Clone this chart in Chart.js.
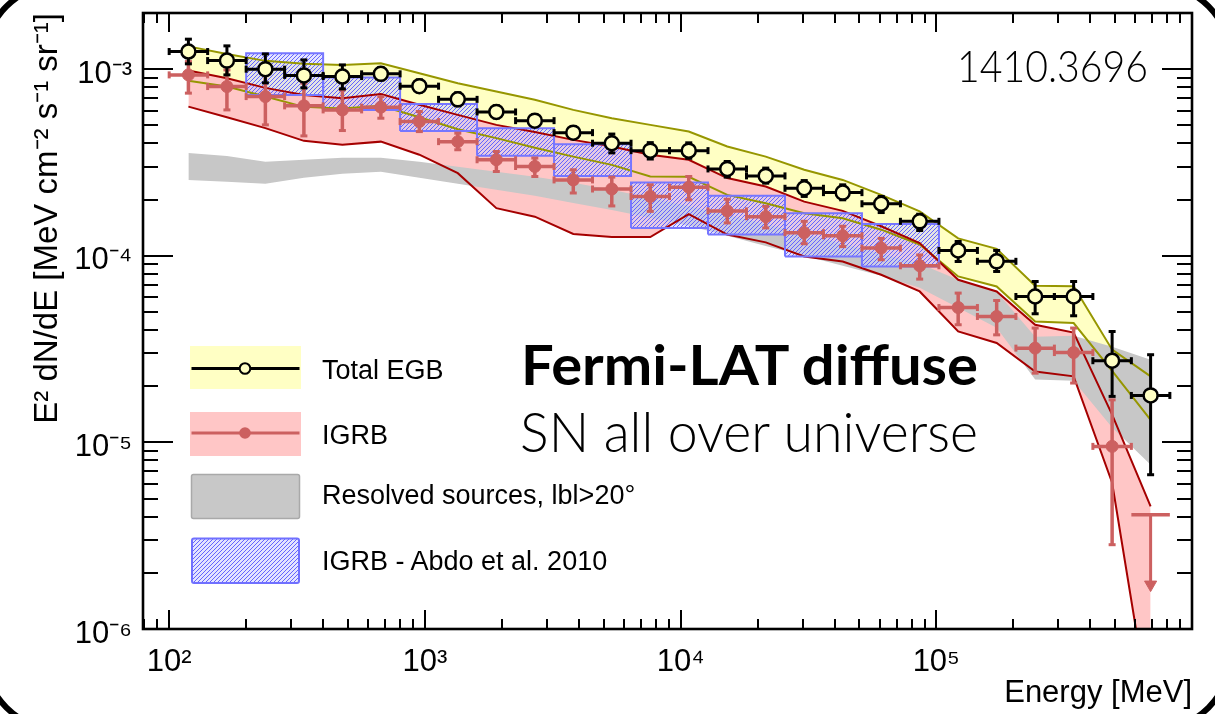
<!DOCTYPE html>
<html>
<head>
<meta charset="utf-8">
<script src="https://cdn.jsdelivr.net/npm/chart.js@4.4.1/dist/chart.umd.min.js"></script>
<style>
html,body{margin:0;padding:0;background:#fff;overflow:hidden}
#wrap{position:relative;width:1215px;height:714px;background:#fff;overflow:hidden}
#c{position:absolute;left:0;top:0}
#ov{position:absolute;left:0;top:0;pointer-events:none}
#corner{position:absolute;left:-20px;top:-20px;width:1255px;height:754px;box-sizing:border-box;border:6px solid #000;border-radius:83px;pointer-events:none}
.lg{font-family:'Liberation Sans',Arial,Helvetica,sans-serif;font-size:27px;fill:#000}
</style>
</head>
<body>
<div id="wrap">
<canvas id="c" width="1215" height="714"></canvas>
<svg id="ov" width="1215" height="714" viewBox="0 0 1215 714">
<defs>
<pattern id="hp" width="4" height="4" patternUnits="userSpaceOnUse">
<rect width="4" height="4" fill="rgba(205,205,255,0.55)"/>
<path d="M-1,1 L1,-1 M0,4 L4,0 M3,5 L5,3" stroke="rgb(100,100,255)" stroke-width="1"/>
</pattern>
</defs>
<rect x="190" y="346" width="111" height="43" fill="#ffffc4"/>
<line x1="191.5" y1="368.5" x2="299.5" y2="368.5" stroke="#000" stroke-width="3"/>
<circle cx="245" cy="368.5" r="5.3" fill="#ffffc4" stroke="#000" stroke-width="2"/>
<text class="lg" x="322" y="379">Total EGB</text>
<rect x="190" y="412" width="111" height="44" fill="#ffc6c6"/>
<line x1="191.5" y1="433" x2="299.5" y2="433" stroke="#cc6060" stroke-width="3"/>
<circle cx="245" cy="433" r="5.8" fill="#cc6060"/>
<text class="lg" x="322" y="444">IGRB</text>
<rect x="191.5" y="474.5" width="108" height="44" rx="2" fill="#c8c8c8" stroke="#a9a9a9" stroke-width="1.5"/>
<text class="lg" x="322" y="504">Resolved sources, lbl&gt;20°</text>
<rect x="192" y="538.5" width="107" height="44.5" rx="2" fill="url(#hp)" stroke="#7070ff" stroke-width="2"/>
<text class="lg" x="322" y="570">IGRB - Abdo et al. 2010</text>
<text x="957" y="82" font-family="Lato" font-weight="300" font-size="44" textLength="191" lengthAdjust="spacingAndGlyphs" fill="#000">1410.3696</text>
<text x="521" y="385" font-family="Lato" font-weight="700" font-size="56" textLength="457" lengthAdjust="spacingAndGlyphs" fill="#000">Fermi-LAT diffuse</text>
<text x="520" y="452" font-family="Lato" font-weight="300" font-size="56" textLength="458" lengthAdjust="spacingAndGlyphs" fill="#000">SN all over universe</text>
</svg>
<div id="corner"></div>
</div>
<script>
// ---------------- data ----------------
const energyLow = [100, 141.4, 200, 282.8, 400, 565.7, 800, 1131, 1600, 2263, 3200, 4525, 6400, 9051, 12800, 18102, 25600, 36204, 51200, 72408, 102400, 144815, 204800, 289631, 409600, 579262];
const energyHigh = [141.4, 200, 282.8, 400, 565.7, 800, 1131, 1600, 2263, 3200, 4525, 6400, 9051, 12800, 18102, 25600, 36204, 51200, 72408, 102400, 144815, 204800, 289631, 409600, 579262, 819200];
const energyCenter = [118.9, 168.2, 237.8, 336.4, 475.7, 672.7, 951.4, 1345, 1903, 2691, 3805, 5382, 7611, 10763, 15222, 21527, 30444, 43054, 60887, 86108, 121775, 172217, 243550, 344431, 487100, 688862];

const egbFlux = [1.243e-3, 1.112e-3, 1.000e-3, 9.26e-4, 9.13e-4, 9.44e-4, 8.11e-4, 6.89e-4, 5.90e-4, 5.30e-4, 4.57e-4, 4.01e-4, 3.66e-4, 3.66e-4, 2.92e-4, 2.68e-4, 2.30e-4, 2.18e-4, 1.90e-4, 1.53e-4, 1.068e-4, 9.34e-5, 6.05e-5, 6.05e-5, 2.74e-5, 1.785e-5];
const egbErrHigh = [1.448e-3, 1.333e-3, 1.207e-3, 1.121e-3, 1.054e-3, 1.016e-3, 8.76e-4, 7.47e-4, 6.36e-4, 5.69e-4, 4.91e-4, 4.49e-4, 4.04e-4, 4.03e-4, 3.20e-4, 2.95e-4, 2.53e-4, 2.40e-4, 2.08e-4, 1.67e-4, 1.193e-4, 1.068e-4, 7.28e-5, 7.28e-5, 3.93e-5, 2.95e-5];
const egbErrLow = [1.068e-3, 9.32e-4, 8.45e-4, 7.94e-4, 7.84e-4, 8.76e-4, 7.56e-4, 6.36e-4, 5.48e-4, 4.97e-4, 4.29e-4, 3.56e-4, 3.30e-4, 3.33e-4, 2.64e-4, 2.45e-4, 2.08e-4, 1.995e-4, 1.705e-4, 1.366e-4, 9.32e-5, 8.24e-5, 4.89e-5, 4.77e-5, 1.764e-5, 6.71e-6];
const egbSysHigh = [1.325e-3, 1.207e-3, 1.108e-3, 1.068e-3, 1.054e-3, 1.077e-3, 9.52e-4, 8.41e-4, 7.59e-4, 6.85e-4, 6.05e-4, 5.46e-4, 5.03e-4, 4.63e-4, 3.85e-4, 3.40e-4, 2.89e-4, 2.55e-4, 2.12e-4, 1.73e-4, 1.24e-4, 1.09e-4, 6.91e-5, 6.86e-5, 3.14e-5, 2.26e-5];
const egbSysLow = [8.66e-4, 8.07e-4, 7.13e-4, 6.28e-4, 6.15e-4, 6.36e-4, 5.53e-4, 4.77e-4, 4.27e-4, 3.79e-4, 3.40e-4, 3.07e-4, 2.66e-4, 2.65e-4, 2.12e-4, 1.91e-4, 1.69e-4, 1.59e-4, 1.38e-4, 1.15e-4, 7.75e-5, 6.85e-5, 4.45e-5, 4.36e-5, 2.42e-5, 1.32e-5];

const igrbFlux = [9.32e-4, 8.07e-4, 7.13e-4, 6.36e-4, 6.05e-4, 6.26e-4, 5.24e-4, 4.09e-4, 3.27e-4, 3.01e-4, 2.55e-4, 2.28e-4, 2.08e-4, 2.33e-4, 1.74e-4, 1.62e-4, 1.33e-4, 1.28e-4, 1.10e-4, 8.84e-5, 5.28e-5, 4.73e-5, 3.20e-5, 3.03e-5, 9.52e-6];
const igrbErrHigh = [1.098e-3, 9.91e-4, 9.32e-4, 8.41e-4, 7.75e-4, 7.13e-4, 5.93e-4, 4.54e-4, 3.62e-4, 3.34e-4, 2.89e-4, 2.64e-4, 2.40e-4, 2.66e-4, 2.01e-4, 1.84e-4, 1.53e-4, 1.44e-4, 1.24e-4, 1.01e-4, 6.31e-5, 5.76e-5, 4.10e-5, 4.10e-5, 1.69e-5];
const igrbErrLow = [7.44e-4, 6.05e-4, 5.03e-4, 4.39e-4, 4.69e-4, 5.46e-4, 4.63e-4, 3.70e-4, 2.83e-4, 2.66e-4, 2.17e-4, 1.85e-4, 1.73e-4, 1.995e-4, 1.50e-4, 1.41e-4, 1.16e-4, 1.12e-4, 9.52e-5, 7.50e-5, 4.27e-5, 3.77e-5, 2.35e-5, 2.08e-5, 2.83e-6];
const igrbUpperLimit = 4.1e-6;      // last bin (upper limit)
const igrbUpperLimitArrow = 1.73e-6;
const igrbSysHigh = [9.83e-4, 8.95e-4, 7.94e-4, 7.28e-4, 6.99e-4, 7.35e-4, 6.44e-4, 5.69e-4, 5.03e-4, 4.61e-4, 4.18e-4, 3.85e-4, 3.48e-4, 3.27e-4, 2.61e-4, 2.35e-4, 1.95e-4, 1.74e-4, 1.44e-4, 1.17e-4, 7.44e-5, 6.44e-5, 4.27e-5, 3.88e-5, 1.41e-5, 4.54e-6];
const igrbSysLow = [6.30e-4, 5.53e-4, 4.83e-4, 4.13e-4, 3.93e-4, 4.09e-4, 3.48e-4, 2.77e-4, 1.80e-4, 1.62e-4, 1.31e-4, 1.26e-4, 1.26e-4, 1.67e-4, 1.30e-4, 1.18e-4, 9.91e-5, 9.32e-5, 7.91e-5, 6.44e-5, 3.93e-5, 3.41e-5, 2.40e-5, 2.26e-5, 6.08e-6, 3.31e-7];

const resolvedHigh = [3.56e-4, 3.43e-4, 3.19e-4, 3.27e-4, 3.35e-4, 3.35e-4, 3.19e-4, 3.00e-4, 2.82e-4, 2.65e-4, 2.46e-4, 2.26e-4, 2.04e-4, 1.85e-4, 1.66e-4, 1.48e-4, 1.31e-4, 1.16e-4, 1.025e-4, 9.06e-5, 7.44e-5, 6.42e-5, 3.68e-5, 3.73e-5, 3.25e-5, 2.77e-5];
const resolvedLow = [2.55e-4, 2.49e-4, 2.43e-4, 2.62e-4, 2.75e-4, 2.82e-4, 2.62e-4, 2.43e-4, 2.26e-4, 2.10e-4, 1.92e-4, 1.76e-4, 1.60e-4, 1.45e-4, 1.28e-4, 1.13e-4, 1.00e-4, 8.84e-5, 7.81e-5, 6.74e-5, 5.27e-5, 4.11e-5, 2.17e-5, 2.14e-5, 1.20e-5, 7.60e-6];

const abdoLowE = [200, 400, 800, 1600, 3200, 6400, 12800, 25600, 51200];
const abdoHighE = [400, 800, 1600, 3200, 6400, 12800, 25600, 51200, 102400];
const abdoHigh = [1.218e-3, 9.02e-4, 6.50e-4, 4.83e-4, 3.96e-4, 2.47e-4, 2.10e-4, 1.69e-4, 1.48e-4];
const abdoLow = [7.28e-4, 6.05e-4, 4.67e-4, 3.44e-4, 2.68e-4, 1.41e-4, 1.30e-4, 9.91e-5, 8.77e-5];

const xTickValues = [1e2, 1e3, 1e4, 1e5];
const xTickLabels = ['10²', '10³', '10⁴', '10⁵'];
const yTickValues = [1e-6, 1e-5, 1e-4, 1e-3];
const yTickLabels = ['10⁻⁶', '10⁻⁵', '10⁻⁴', '10⁻³'];
const xTitle = 'Energy [MeV]';
const yTitle = 'E² dN/dE [MeV cm⁻² s⁻¹ sr⁻¹]';

// ---------------- style ----------------
const YEL = 'rgb(255,255,196)', OLIVE = 'rgb(150,150,0)', PINK = 'rgb(255,198,198)', DRED = 'rgb(165,0,0)';
const GRAY = 'rgb(199,199,199)', RED = 'rgb(204,96,96)', BLUE = 'rgb(118,118,255)';

function hatch() {
  const c = document.createElement('canvas'); c.width = 4; c.height = 4;
  const g = c.getContext('2d');
  g.fillStyle = 'rgba(205,205,255,0.55)'; g.fillRect(0, 0, 4, 4);
  g.strokeStyle = 'rgb(100,100,255)'; g.lineWidth = 1;
  g.beginPath(); g.moveTo(-1, 1); g.lineTo(1, -1); g.moveTo(0, 4); g.lineTo(4, 0); g.moveTo(3, 5); g.lineTo(5, 3); g.stroke();
  return g.createPattern(c, 'repeat');
}
const hatchPattern = hatch();

Chart.defaults.font.family = "'Liberation Sans', Arial, Helvetica, sans-serif";
Chart.defaults.color = '#000';

const P = (xs, ys) => ys.map((y, i) => ({x: xs[i], y}));
const datasets = [];
function add(o) {
  datasets.push(Object.assign({type: 'line', pointRadius: 0, pointHoverRadius: 0, borderWidth: 0, fill: false, tension: 0, spanGaps: false}, o));
  return datasets.length - 1;
}

// bands
const iEgbLo = add({label: 'Total EGB sys low', data: P(energyCenter, egbSysLow), borderColor: OLIVE, borderWidth: 2, order: 40});
add({label: 'Total EGB sys high', data: P(energyCenter, egbSysHigh), borderColor: OLIVE, borderWidth: 2, backgroundColor: YEL, fill: iEgbLo, order: 40});
const iIgLo = add({label: 'IGRB sys low', data: P(energyCenter, igrbSysLow), borderColor: DRED, borderWidth: 2, order: 30});
add({label: 'IGRB sys high', data: P(energyCenter, igrbSysHigh), borderColor: DRED, borderWidth: 2, backgroundColor: PINK, fill: iIgLo, order: 30});
const iResLo = add({label: 'Resolved low', data: P(energyCenter, resolvedLow), borderColor: 'rgba(0,0,0,0)', order: 20});
add({label: 'Resolved sources, lbl>20°', data: P(energyCenter, resolvedHigh), borderColor: 'rgba(0,0,0,0)', backgroundColor: GRAY, fill: iResLo, order: 20});

// Abdo 2010 boxes
abdoLowE.forEach((lo, i) => {
  const hi = abdoHighE[i];
  add({label: 'IGRB - Abdo et al. 2010', data: [
    {x: lo, y: abdoLow[i]}, {x: lo, y: abdoHigh[i]}, {x: hi, y: abdoHigh[i]}, {x: hi, y: abdoLow[i]}, {x: lo, y: abdoLow[i]}
  ], borderColor: BLUE, borderWidth: 2, backgroundColor: hatchPattern, fill: 'shape', order: 10});
});

// error bars
function hBars(ys, n) { const d = []; for (let i = 0; i < n; i++) { d.push({x: energyLow[i], y: ys[i]}, {x: energyHigh[i], y: ys[i]}, {x: energyHigh[i], y: null}); } return d; }
function vBars(lo, hi) { const d = []; lo.forEach((v, i) => { d.push({x: energyCenter[i], y: v}, {x: energyCenter[i], y: hi[i]}, {x: energyCenter[i], y: null}); }); return d; }
function hCaps(ys) { const d = []; ys.forEach((y, i) => d.push({x: energyLow[i], y}, {x: energyHigh[i], y})); return d; }
function vCaps(lo, hi) { const d = []; lo.forEach((v, i) => d.push({x: energyCenter[i], y: v}, {x: energyCenter[i], y: hi[i]})); return d; }

add({label: 'IGRB x err', data: hBars(igrbFlux, igrbFlux.length), borderColor: RED, borderWidth: 3.5, order: 4});
add({label: 'IGRB y err', data: vBars(igrbErrLow, igrbErrHigh), borderColor: RED, borderWidth: 3.5, order: 4});
add({label: 'IGRB caps h', data: hCaps(igrbFlux), showLine: false, pointStyle: 'line', pointRadius: 3.5, pointRotation: 90, pointBorderColor: RED, pointBorderWidth: 3, order: 4});
add({label: 'IGRB caps v', data: vCaps(igrbErrLow, igrbErrHigh), showLine: false, pointStyle: 'line', pointRadius: 3.5, pointRotation: 0, pointBorderColor: RED, pointBorderWidth: 3, order: 4});
add({label: 'IGRB UL bar', data: [{x: energyLow[25], y: igrbUpperLimit}, {x: energyHigh[25], y: igrbUpperLimit}], borderColor: RED, borderWidth: 3.5, order: 4});
add({label: 'IGRB UL arrow', data: [{x: energyCenter[25], y: igrbUpperLimit}, {x: energyCenter[25], y: igrbUpperLimitArrow}], borderColor: RED, borderWidth: 3, order: 4});
add({label: 'IGRB UL head', data: [{x: energyCenter[25], y: igrbUpperLimitArrow}], showLine: false, pointStyle: 'triangle', pointRotation: 180, pointRadius: 7, pointBackgroundColor: RED, pointBorderColor: RED, pointBorderWidth: 1, order: 4});

add({label: 'EGB x err', data: hBars(egbFlux, egbFlux.length), borderColor: '#000', borderWidth: 3, order: 3});
add({label: 'EGB y err', data: vBars(egbErrLow, egbErrHigh), borderColor: '#000', borderWidth: 3, order: 3});
add({label: 'EGB caps h', data: hCaps(egbFlux), showLine: false, pointStyle: 'line', pointRadius: 3.5, pointRotation: 90, pointBorderColor: '#000', pointBorderWidth: 3, order: 3});
add({label: 'EGB caps v', data: vCaps(egbErrLow, egbErrHigh), showLine: false, pointStyle: 'line', pointRadius: 3.5, pointRotation: 0, pointBorderColor: '#000', pointBorderWidth: 3, order: 3});

// markers
add({label: 'IGRB', data: P(energyCenter, igrbFlux), showLine: false, pointRadius: 6, pointBackgroundColor: RED, pointBorderColor: RED, pointBorderWidth: 1, order: 2});
add({label: 'Total EGB', data: P(energyCenter, egbFlux), showLine: false, pointRadius: 7, pointBackgroundColor: YEL, pointBorderColor: '#000', pointBorderWidth: 2.5, order: 1});

// ROOT-like frame with inward ticks on all four sides
const framePlugin = {
  id: 'rootFrame',
  afterDatasetsDraw(chart) {
    const {ctx, chartArea: a, scales: {x, y}} = chart;
    ctx.save();
    ctx.strokeStyle = '#000';
    ctx.lineWidth = 2;
    ctx.beginPath();
    for (let e = 1; e <= 6; e++) for (let m = 1; m <= 9; m++) {
      const v = m * Math.pow(10, e);
      if (v < x.min || v > x.max) continue;
      const p = Math.round(x.getPixelForValue(v));
      const L = m === 1 ? 19 : 10;
      ctx.moveTo(p, a.bottom); ctx.lineTo(p, a.bottom - L);
      ctx.moveTo(p, a.top); ctx.lineTo(p, a.top + L);
    }
    for (let e = -7; e <= -2; e++) for (let m = 1; m <= 9; m++) {
      const v = m * Math.pow(10, e);
      if (v < y.min * 0.999 || v > y.max * 1.001) continue;
      const p = Math.round(y.getPixelForValue(v));
      const L = m === 1 ? 30 : 15;
      ctx.moveTo(a.left, p); ctx.lineTo(a.left + L, p);
      ctx.moveTo(a.right, p); ctx.lineTo(a.right - L, p);
    }
    ctx.stroke();
    ctx.lineWidth = 2.6;
    ctx.strokeRect(a.left, a.top, a.right - a.left, a.bottom - a.top);
    ctx.restore();
  }
};

new Chart(document.getElementById('c'), {
  type: 'line',
  data: {datasets},
  options: {
    responsive: false,
    animation: false,
    devicePixelRatio: 1,
    events: [],
    layout: {padding: {left: 0, right: 23, top: 13, bottom: 0}},
    plugins: {legend: {display: false}, tooltip: {enabled: false}, filler: {drawTime: 'beforeDatasetsDraw'}},
    scales: {
      x: {
        type: 'logarithmic', min: 79, max: 1e6,
        afterBuildTicks: s => { s.ticks = xTickValues.map(v => ({value: v})); },
        afterFit: s => { s.height = 85; s.paddingLeft = 0; s.paddingRight = 0; },
        grid: {display: false, drawTicks: false},
        border: {display: false},
        ticks: {autoSkip: false, maxRotation: 0, minRotation: 0, padding: 15, color: '#000', font: {size: 31},
          callback: v => { const i = xTickValues.indexOf(v); return i >= 0 ? xTickLabels[i] : ''; }},
        title: {display: true, text: xTitle, align: 'end', color: '#000', font: {size: 31}, padding: {top: 0, bottom: 2}}
      },
      y: {
        type: 'logarithmic', min: 1e-6, max: 2e-3,
        afterBuildTicks: s => { s.ticks = yTickValues.map(v => ({value: v})); },
        afterFit: s => { s.width = 143; s.paddingTop = 0; s.paddingBottom = 0; },
        grid: {display: false, drawTicks: false},
        border: {display: false},
        ticks: {autoSkip: false, padding: 11, labelOffset: 5, color: '#000', font: {size: 31},
          callback: v => { const i = yTickValues.indexOf(v); return i >= 0 ? yTickLabels[i] : ''; }},
        title: {display: true, text: yTitle, align: 'end', color: '#000', font: {size: 33}, padding: {top: 28, bottom: 0}}
      }
    }
  },
  plugins: [framePlugin]
});
</script>
</body>
</html>
